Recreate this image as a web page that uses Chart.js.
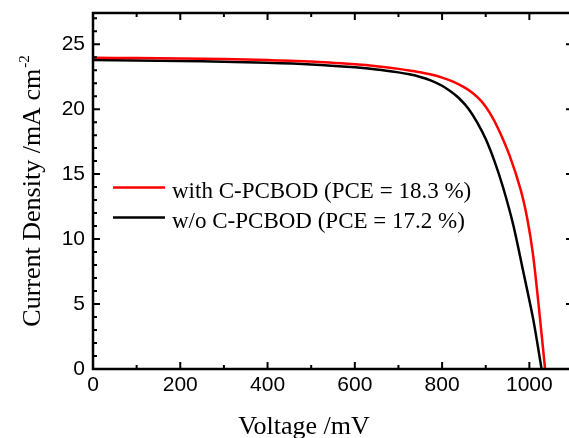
<!DOCTYPE html>
<html>
<head>
<meta charset="utf-8">
<script src="https://cdn.jsdelivr.net/npm/chart.js@4/dist/chart.umd.min.js"></script>
<style>
    html, body { margin: 0; padding: 0; background: #fff; overflow: hidden; }
    #wrap { width: 569px; height: 438px; overflow: hidden; }
</style>
</head>
<body>
<div id="wrap"><canvas id="myChart" width="580" height="438"></canvas></div>
<script>
// J-V data (mV, mA cm^-2)
const voltageWith = [0, 100, 200, 300, 400, 500, 600, 650, 700, 725, 750, 775, 800, 825, 850, 870, 890, 910, 930, 955, 980, 995, 1008, 1021, 1036];
const currentWith = [23.95, 23.93, 23.9, 23.85, 23.78, 23.67, 23.45, 23.3, 23.1, 22.98, 22.84, 22.66, 22.43, 22.12, 21.7, 21.25, 20.62, 19.68, 18.4, 16.4, 13.8, 11.6, 8.9, 5.0, 0];
const voltageWithout = [0, 100, 200, 300, 400, 500, 600, 650, 700, 725, 750, 775, 800, 820, 840, 860, 880, 900, 920, 940, 963, 986, 1009, 1028];
const currentWithout = [23.78, 23.75, 23.71, 23.65, 23.57, 23.44, 23.22, 23.06, 22.83, 22.68, 22.48, 22.2, 21.8, 21.35, 20.8, 20.05, 19.0, 17.7, 16.0, 13.95, 11.1, 7.5, 3.8, 0];
const seriesLabels = ['with C-PCBOD (PCE = 18.3 %)', 'w/o C-PCBOD (PCE = 17.2 %)'];
const seriesColors = ['#ff0000', '#000000'];
const xTitle = 'Voltage /mV';
const yTitle = 'Current Density /mA cm';
const yTitleSup = '-2';

function toPoints(xs, ys) {
    return xs.map((x, i) => ({ x: x, y: ys[i] }));
}

const serif = '"Liberation Serif", "Times New Roman", serif';
const sans = '"Liberation Sans", Arial, sans-serif';

// frame, inward ticks, axis titles and legend drawn on top
const framePlugin = {
    id: 'frame',
    afterDraw(chart) {
        const ctx = chart.ctx;
        const a = chart.chartArea;
        const xs = chart.scales.x;
        const ys = chart.scales.y;
        ctx.save();
        ctx.strokeStyle = '#000';
        ctx.lineCap = 'butt';

        ctx.lineWidth = 2;
        xs.ticks.forEach(t => {
            if (t.value % 100 !== 0) return;
            const px = xs.getPixelForValue(t.value);
            const len = t.value % 200 === 0 ? 7 : 4;
            ctx.beginPath();
            ctx.moveTo(px, a.bottom); ctx.lineTo(px, a.bottom - len);
            ctx.moveTo(px, a.top); ctx.lineTo(px, a.top + len);
            ctx.stroke();
        });
        ys.ticks.forEach(t => {
            if (t.value % 1 !== 0) return;
            const py = ys.getPixelForValue(t.value);
            const len = t.value % 5 === 0 ? 7 : 4;
            ctx.beginPath();
            ctx.moveTo(a.left, py); ctx.lineTo(a.left + len, py);
            ctx.moveTo(a.right, py); ctx.lineTo(a.right - len, py);
            ctx.stroke();
        });

        ctx.lineWidth = 2.5;
        ctx.strokeRect(a.left, a.top, a.right - a.left, a.bottom - a.top);

        // x title
        ctx.fillStyle = '#000';
        ctx.font = '26px ' + serif;
        ctx.textAlign = 'center';
        ctx.textBaseline = 'alphabetic';
        ctx.fillText(xTitle, 304, 434);

        // y title with superscript
        ctx.save();
        ctx.translate(39.5, (a.top + a.bottom) / 2);
        ctx.rotate(-Math.PI / 2);
        ctx.textAlign = 'left';
        ctx.font = '26px ' + serif;
        const w1 = ctx.measureText(yTitle).width;
        ctx.font = '15px ' + serif;
        const w2 = ctx.measureText(yTitleSup).width;
        const start = -(w1 + w2 + 1) / 2;
        ctx.font = '26px ' + serif;
        ctx.fillText(yTitle, start, 0);
        ctx.font = '15px ' + serif;
        ctx.fillText(yTitleSup, start + w1 + 1, -11);
        ctx.restore();

        // legend
        chart.data.datasets.forEach((ds, i) => {
            const ly = 187.5 + 30 * i;
            ctx.strokeStyle = ds.borderColor;
            ctx.lineWidth = 2.5;
            ctx.beginPath();
            ctx.moveTo(113, ly); ctx.lineTo(165, ly);
            ctx.stroke();
            ctx.fillStyle = '#000';
            ctx.font = '23px ' + serif;
            ctx.textAlign = 'left';
            ctx.fillText(ds.label, 172, ly + 10);
        });
        ctx.restore();
    }
};

const canvas = document.getElementById('myChart').getContext('2d');
const chart = new Chart(canvas, {
    type: 'line',
    data: {
        datasets: [{
            label: seriesLabels[0],
            data: toPoints(voltageWith, currentWith),
            borderColor: seriesColors[0],
            borderWidth: 2.5,
            pointRadius: 0,
            fill: false,
            tension: 0.3
        }, {
            label: seriesLabels[1],
            data: toPoints(voltageWithout, currentWithout),
            borderColor: seriesColors[1],
            borderWidth: 2.5,
            pointRadius: 0,
            fill: false,
            tension: 0.3
        }]
    },
    options: {
        responsive: false,
        animation: false,
        layout: { padding: { left: 0, right: 7, top: 13, bottom: 0 } },
        plugins: { legend: { display: false }, tooltip: { enabled: false } },
        scales: {
            x: {
                type: 'linear',
                min: 0,
                max: 1100,
                grid: { display: false, drawTicks: false },
                border: { display: false },
                ticks: {
                    stepSize: 100,
                    includeBounds: false,
                    autoSkip: false,
                    maxRotation: 0,
                    padding: 4,
                    color: '#000',
                    font: { family: sans, size: 21 },
                    callback: v => (v % 200 === 0 ? v : '')
                },
                afterFit: s => {
                    s.height = 69;
                    s.paddingLeft = 0;
                    s.paddingRight = 0;
                }
            },
            y: {
                type: 'linear',
                min: 0,
                max: 27.4,
                grid: { display: false, drawTicks: false },
                border: { display: false },
                ticks: {
                    stepSize: 1,
                    includeBounds: false,
                    autoSkip: false,
                    padding: 8,
                    color: '#000',
                    font: { family: sans, size: 21 },
                    callback: v => (v % 5 === 0 ? v : '')
                },
                afterFit: s => {
                    s.width = 93;
                    s.paddingTop = 0;
                    s.paddingBottom = 0;
                }
            }
        }
    },
    plugins: [framePlugin]
});
</script>
</body>
</html>
